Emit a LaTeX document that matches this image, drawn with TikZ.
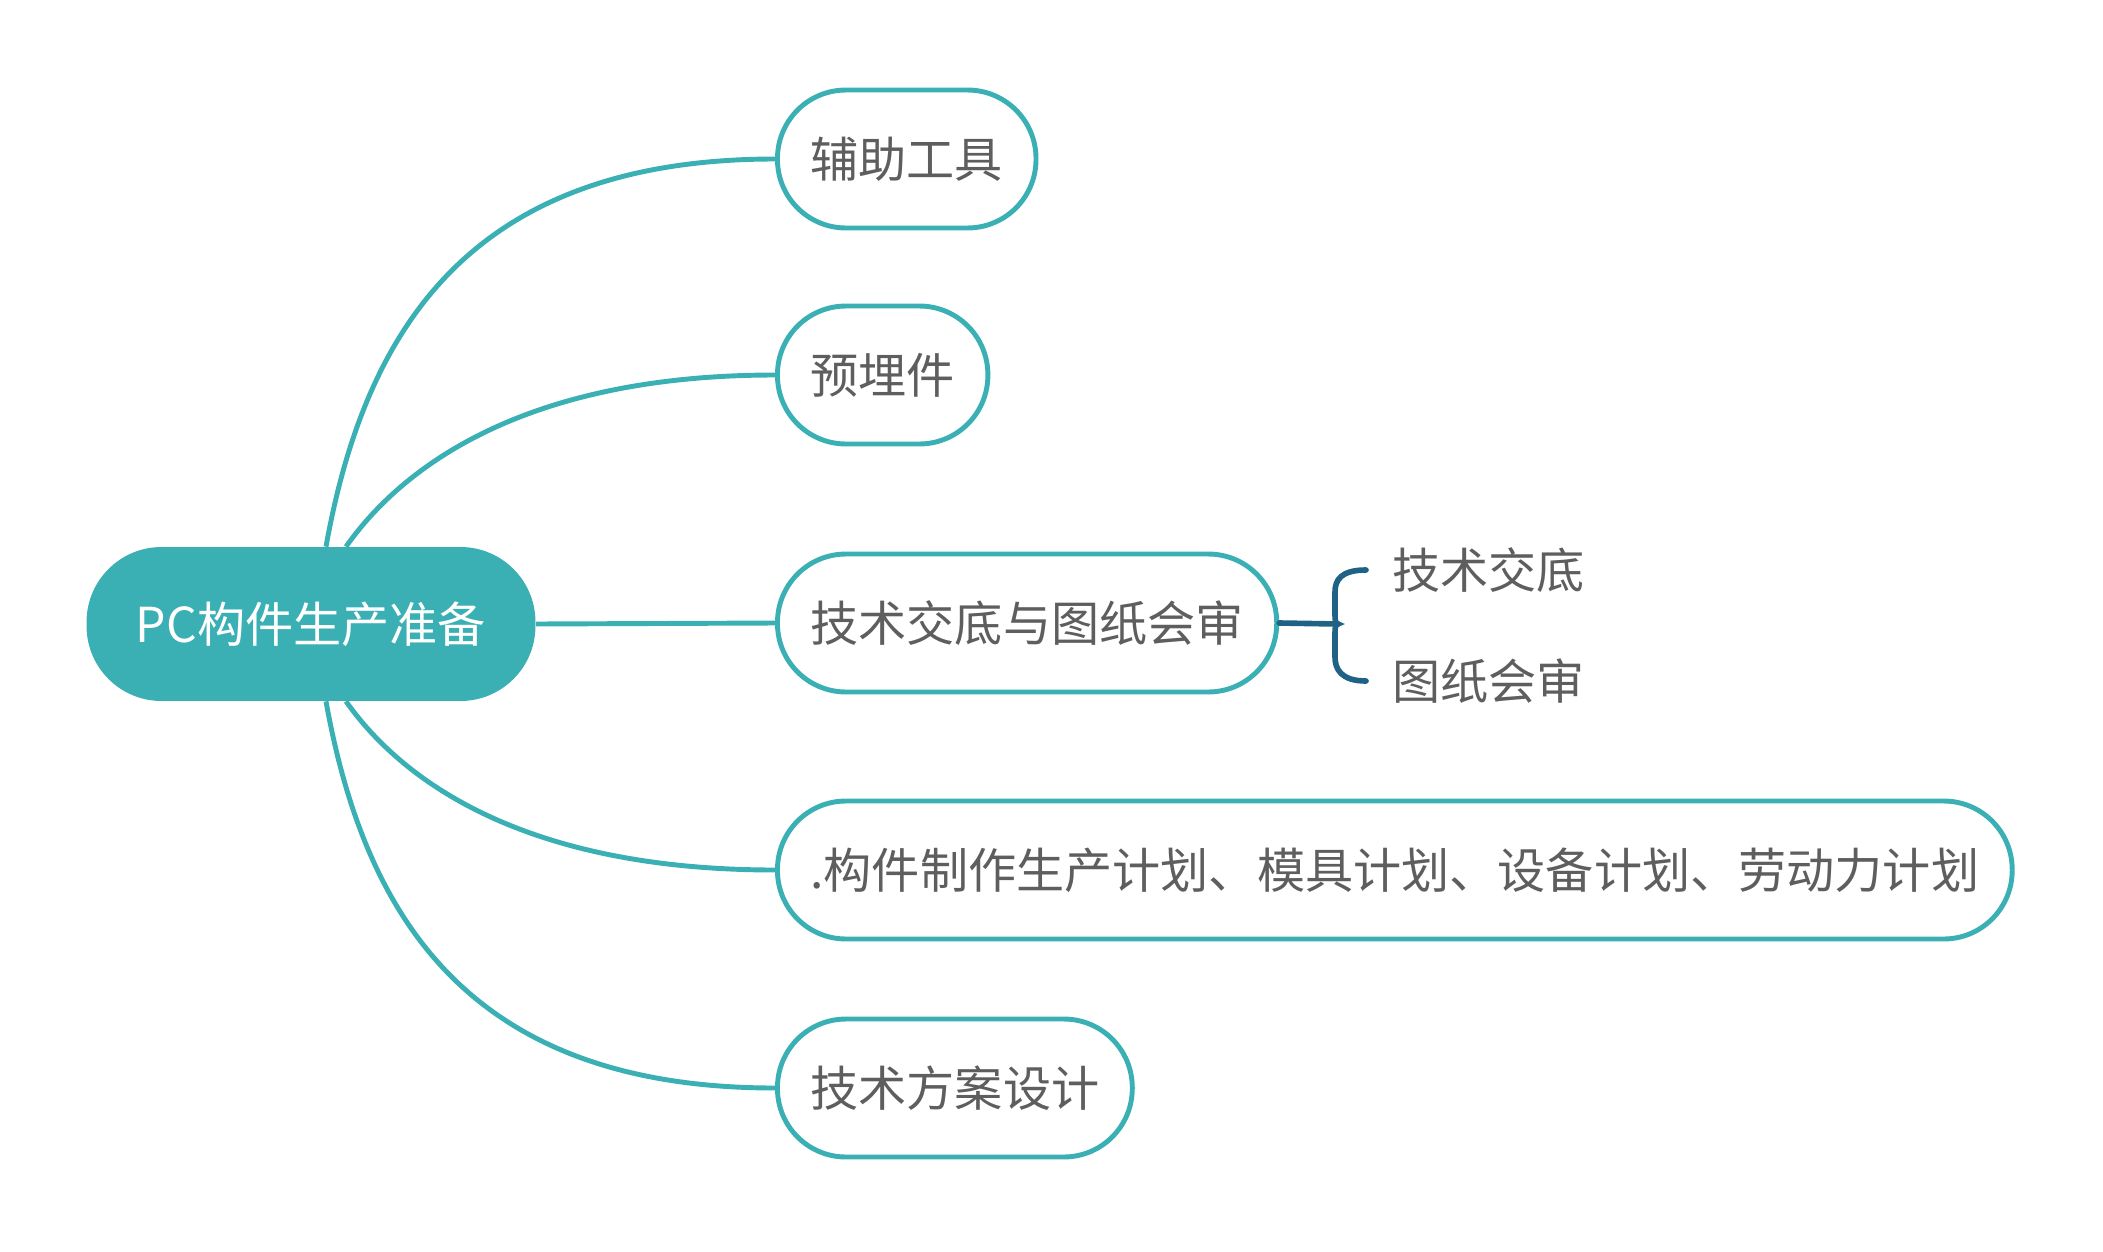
\documentclass[tikz,border=0pt]{standalone}
\usepackage{fontspec}
\setmainfont{Noto Sans CJK SC}
\usepackage{xcolor}
\usepackage{tikz}
\usetikzlibrary{positioning}
\definecolor{mmteal}{HTML}{3AB0B5}
\definecolor{mmgray}{HTML}{5E5E5E}
\definecolor{mmblue}{HTML}{1F6286}
\tikzset{
  rootnd/.style={fill=mmteal,text=white,rounded corners=1.5cm,minimum width=8.98cm,minimum height=3.08cm,font=\fontsize{27.4}{32}\selectfont},
  topic/.style={draw=mmteal,line width=2.8pt,fill=white,text=mmgray,rounded corners=1.37cm,minimum height=2.76cm,inner xsep=0.66cm,anchor=west,font=\fontsize{27.4}{32}\selectfont},
  subnd/.style={text=mmgray,inner sep=0pt,anchor=west,font=\fontsize{27.4}{32}\selectfont},
  br/.style={mmteal,line width=2.8pt},
  brc/.style={mmblue,line width=3.2pt,line cap=round}
}

\begin{document}
\begin{tikzpicture}[x=0.02cm,y=-0.02cm]
\useasboundingbox (0,0) rectangle (2103,1251);
\node[rootnd] (root) at (311,624) {PC构件生产准备};
\node[topic] (tool) at (775,159) {辅助工具};
\node[topic] (embed) at (775,375) {预埋件};
\node[topic] (tech) at (775,623) {技术交底与图纸会审};
\node[topic] (plan) at (775,870) {.构件制作生产计划、模具计划、设备计划、劳动力计划};
\node[topic] (design) at (775,1088) {技术方案设计};
\node[subnd] (td) at (1392,570) {技术交底};
\node[subnd] (tz) at (1392,681) {图纸会审};
\draw[br] ([xshift=0.3cm]root.north) .. controls (365,330) and (470,159) .. (tool.west);
\draw[br] ([xshift=0.7cm]root.north) .. controls (400,470) and (520,375) .. (embed.west);
\draw[br] (root.east) -- (tech.west);
\draw[br] ([xshift=0.7cm]root.south) .. controls (400,778) and (520,870) .. (plan.west);
\draw[br] ([xshift=0.3cm]root.south) .. controls (365,918) and (470,1088) .. (design.west);
\coordinate (brmid) at (1338,624);
\draw[brc] (tech.east) -- (brmid);
\draw[brc] ([xshift=-0.52cm]td.west) .. controls +(-25,0) and +(0,-12) .. (1335,592) -- (1335,610) .. controls +(0,10) and +(-3,0) .. (brmid) .. controls +(-3,0) and +(0,-10) .. (1335,638) -- (1335,657) .. controls +(0,12) and +(-25,0) .. ([xshift=-0.52cm]tz.west);
\end{tikzpicture}
\end{document}
